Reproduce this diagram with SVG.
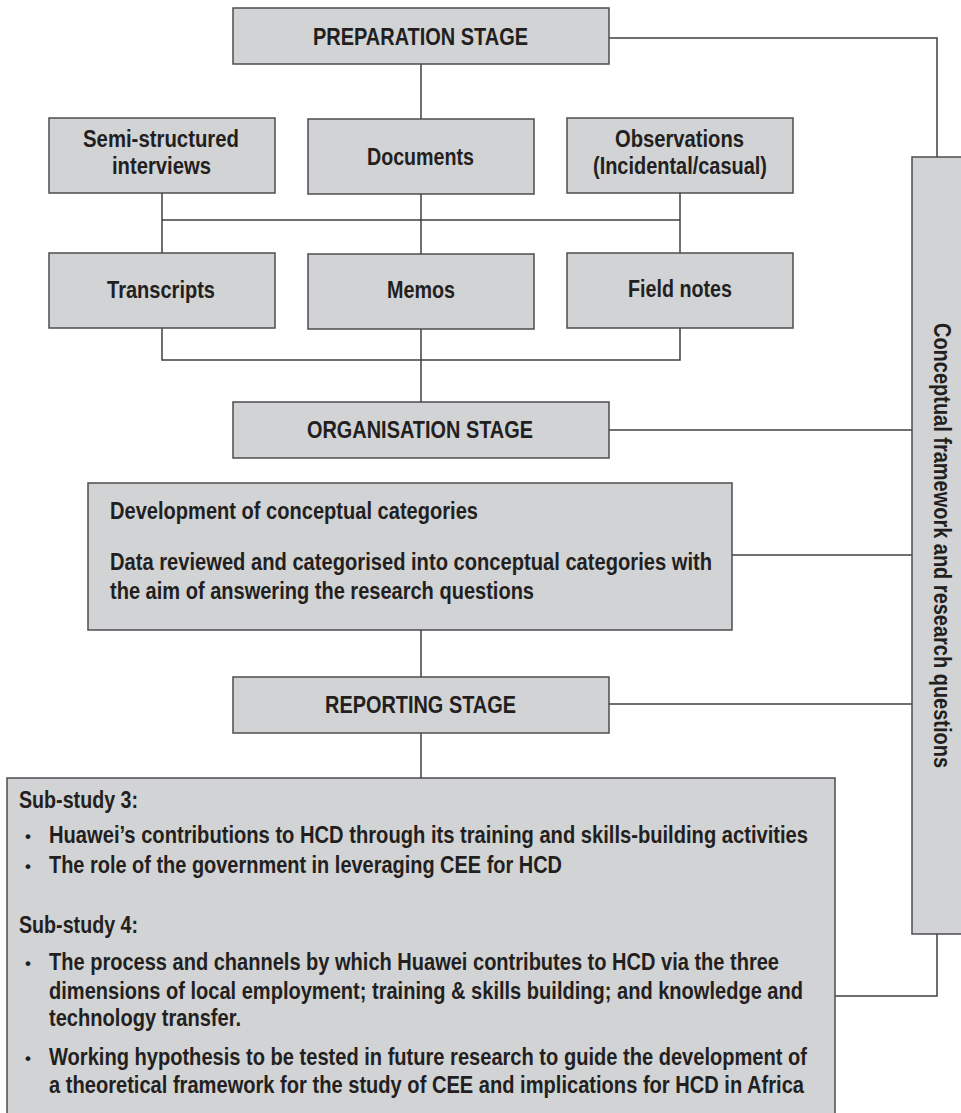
<svg xmlns="http://www.w3.org/2000/svg" width="961" height="1113" viewBox="0 0 961 1113">
<style>
.box{fill:#d1d3d4;stroke:#4d4d4f;stroke-width:1.5}
.ln{fill:none;stroke:#3f3f41;stroke-width:1.5}
text{font-family:"Liberation Sans",Arial,sans-serif;font-weight:bold;font-size:23px;fill:#231f20}
.bul{font-size:17px}
</style>
<rect width="961" height="1113" fill="#ffffff"/>
<g id="connectors">
<polyline class="ln" points="609,38 937,38 937,157"/>
<line class="ln" x1="421" y1="64" x2="421" y2="119"/>
<line class="ln" x1="162" y1="193" x2="162" y2="253"/>
<line class="ln" x1="421" y1="194" x2="421" y2="254"/>
<line class="ln" x1="680" y1="193" x2="680" y2="253"/>
<line class="ln" x1="162" y1="220" x2="680" y2="220"/>
<polyline class="ln" points="162,328 162,360 680,360 680,328"/>
<line class="ln" x1="421" y1="329" x2="421" y2="402"/>
<line class="ln" x1="609" y1="430" x2="912" y2="430"/>
<line class="ln" x1="732" y1="555" x2="912" y2="555"/>
<line class="ln" x1="421" y1="630" x2="421" y2="677"/>
<line class="ln" x1="609" y1="704" x2="912" y2="704"/>
<line class="ln" x1="421" y1="733" x2="421" y2="778"/>
<polyline class="ln" points="937,934 937,996 835,996"/>
</g>
<g id="preparation">
<rect class="box" x="233" y="8" width="376" height="56"/>
<text x="313" y="45" textLength="215" lengthAdjust="spacingAndGlyphs">PREPARATION STAGE</text>
</g>
<g id="semi-structured">
<rect class="box" x="49" y="118" width="226" height="75"/>
<text x="83" y="147" textLength="156" lengthAdjust="spacingAndGlyphs">Semi-structured</text>
<text x="112" y="174" textLength="99" lengthAdjust="spacingAndGlyphs">interviews</text>
</g>
<g id="documents">
<rect class="box" x="308" y="119" width="226" height="75"/>
<text x="367" y="165" textLength="107" lengthAdjust="spacingAndGlyphs">Documents</text>
</g>
<g id="observations">
<rect class="box" x="567" y="118" width="226" height="75"/>
<text x="615" y="147" textLength="129" lengthAdjust="spacingAndGlyphs">Observations</text>
<text x="593" y="174" textLength="174" lengthAdjust="spacingAndGlyphs">(Incidental/casual)</text>
</g>
<g id="transcripts">
<rect class="box" x="49" y="253" width="226" height="75"/>
<text x="107" y="298" textLength="108" lengthAdjust="spacingAndGlyphs">Transcripts</text>
</g>
<g id="memos">
<rect class="box" x="308" y="254" width="226" height="75"/>
<text x="387" y="298" textLength="68" lengthAdjust="spacingAndGlyphs">Memos</text>
</g>
<g id="field-notes">
<rect class="box" x="567" y="253" width="226" height="75"/>
<text x="628" y="297" textLength="104" lengthAdjust="spacingAndGlyphs">Field notes</text>
</g>
<g id="organisation">
<rect class="box" x="233" y="402" width="376" height="56"/>
<text x="307" y="438" textLength="226" lengthAdjust="spacingAndGlyphs">ORGANISATION STAGE</text>
</g>
<g id="development">
<rect class="box" x="88" y="483" width="644" height="147"/>
<text x="110" y="519" textLength="368" lengthAdjust="spacingAndGlyphs">Development of conceptual categories</text>
<text x="110" y="570" textLength="602" lengthAdjust="spacingAndGlyphs">Data reviewed and categorised into conceptual categories with</text>
<text x="110" y="599" textLength="424" lengthAdjust="spacingAndGlyphs">the aim of answering the research questions</text>
</g>
<g id="reporting">
<rect class="box" x="233" y="677" width="376" height="56"/>
<text x="325" y="713" textLength="191" lengthAdjust="spacingAndGlyphs">REPORTING STAGE</text>
</g>
<g id="sidebar">
<rect class="box" x="912" y="157" width="60" height="777"/>
<text transform="translate(934,323) rotate(90)" textLength="445" lengthAdjust="spacingAndGlyphs">Conceptual framework and research questions</text>
</g>
<g id="sub-studies">
<rect class="box" x="7" y="778" width="828" height="340"/>
<text x="19" y="808" textLength="119" lengthAdjust="spacingAndGlyphs">Sub-study 3:</text>
<text class="bul" x="25" y="842">•</text>
<text x="49" y="843" textLength="759" lengthAdjust="spacingAndGlyphs">Huawei’s contributions to HCD through its training and skills-building activities</text>
<text class="bul" x="25" y="872">•</text>
<text x="49" y="873" textLength="513" lengthAdjust="spacingAndGlyphs">The role of the government in leveraging CEE for HCD</text>
<text x="19" y="933" textLength="119" lengthAdjust="spacingAndGlyphs">Sub-study 4:</text>
<text class="bul" x="25" y="969">•</text>
<text x="49" y="970" textLength="730" lengthAdjust="spacingAndGlyphs">The process and channels by which Huawei contributes to HCD via the three</text>
<text x="49" y="999" textLength="754" lengthAdjust="spacingAndGlyphs">dimensions of local employment; training &amp; skills building; and knowledge and</text>
<text x="49" y="1026" textLength="192" lengthAdjust="spacingAndGlyphs">technology transfer.</text>
<text class="bul" x="25" y="1064">•</text>
<text x="49" y="1065" textLength="758" lengthAdjust="spacingAndGlyphs">Working hypothesis to be tested in future research to guide the development of</text>
<text x="49" y="1093" textLength="755" lengthAdjust="spacingAndGlyphs">a theoretical framework for the study of CEE and implications for HCD in Africa</text>
</g>
</svg>
